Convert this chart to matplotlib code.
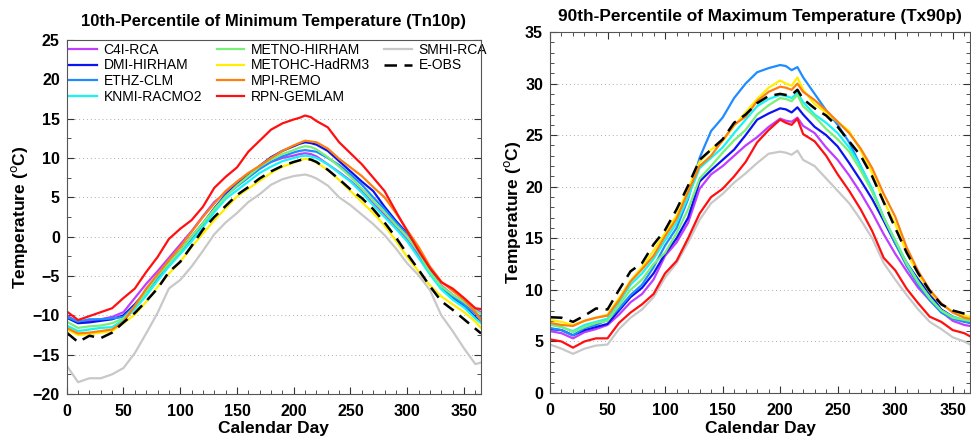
import matplotlib
matplotlib.use('Agg')
import matplotlib.pyplot as plt
from matplotlib.lines import Line2D
from matplotlib.ticker import MultipleLocator

days = [0, 10, 20, 30, 40, 50, 60, 70, 80, 90, 100, 110, 120, 130, 140, 150, 160, 170, 180, 190,
        200, 205, 210, 215, 220, 230, 240, 250, 260, 270, 280, 290, 300, 310, 320, 330, 340, 350, 360, 365]

model_names = ['C4I-RCA', 'DMI-HIRHAM', 'ETHZ-CLM', 'KNMI-RACMO2', 'METNO-HIRHAM',
               'METOHC-HadRM3', 'MPI-REMO', 'RPN-GEMLAM', 'SMHI-RCA']
obs_name = 'E-OBS'

# Tn10p (10th percentile of daily minimum temperature)
tn10p_c4i = [-10.0, -10.9, -10.7, -10.5, -10.2, -9.6, -7.8, -6.0, -4.4, -2.7, -1.0, 0.7, 2.6, 4.4, 5.6, 6.8, 7.8, 8.8, 9.5, 10.0,
             10.3, 10.5, 10.6, 10.5, 10.2, 9.2, 8.2, 7.1, 5.8, 4.2, 2.8, 1.2, -0.4, -2.4, -4.7, -6.2, -7.4, -8.3, -9.2, -9.6]
tn10p_dmi = [-10.3, -11.0, -10.9, -10.7, -10.5, -10.0, -8.6, -6.9, -5.2, -3.4, -1.8, 0.0, 1.7, 3.6, 5.3, 6.6, 7.8, 9.0, 10.1, 10.9,
             11.5, 11.8, 12.0, 11.9, 11.7, 10.9, 9.6, 8.3, 7.0, 5.8, 3.8, 2.0, 0.4, -1.8, -4.3, -6.4, -7.7, -8.9, -10.2, -10.9]
tn10p_ethz = [-10.2, -10.8, -10.5, -10.5, -10.4, -10.2, -8.8, -7.0, -5.2, -3.5, -1.9, -0.2, 1.6, 3.4, 5.2, 6.4, 7.5, 8.6, 9.5, 10.2,
              10.7, 10.9, 11.0, 10.9, 10.8, 10.0, 9.1, 7.9, 6.6, 5.0, 3.5, 1.8, 0.3, -2.1, -4.4, -6.4, -7.6, -8.6, -9.8, -10.2]
tn10p_knmi = [-11.3, -12.0, -11.8, -11.6, -11.5, -10.6, -9.2, -7.5, -5.6, -3.8, -2.2, -0.6, 1.2, 3.1, 4.8, 5.9, 7.0, 8.1, 8.9, 9.6,
              10.0, 10.2, 10.3, 10.2, 10.0, 9.2, 8.1, 7.0, 5.6, 4.0, 2.5, 1.0, -0.6, -2.7, -4.8, -6.7, -8.0, -9.0, -10.4, -11.0]
tn10p_metno = [-10.8, -11.6, -11.4, -11.3, -11.0, -10.4, -8.9, -7.0, -5.0, -3.4, -1.8, 0.0, 1.7, 3.5, 5.1, 6.5, 7.7, 8.9, 9.8, 10.5,
               11.0, 11.3, 11.5, 11.4, 11.1, 10.1, 8.9, 7.6, 6.1, 4.6, 3.1, 1.5, 0.0, -2.0, -4.5, -6.3, -7.4, -8.3, -9.4, -9.8]
tn10p_metohc = [-11.8, -12.5, -12.4, -12.2, -12.0, -11.0, -9.9, -8.3, -6.4, -4.7, -3.2, -1.3, 0.4, 2.1, 3.6, 5.1, 6.1, 7.1, 8.1, 8.9,
                9.4, 9.7, 9.9, 9.8, 9.4, 8.5, 7.2, 5.8, 4.4, 3.0, 1.4, -0.5, -2.6, -4.4, -6.2, -7.6, -8.6, -9.6, -10.8, -11.6]
tn10p_mpi = [-11.6, -12.3, -12.2, -12.0, -11.8, -10.8, -8.8, -6.6, -4.8, -3.0, -1.3, 0.6, 2.5, 4.2, 5.8, 7.0, 8.1, 9.0, 10.0, 10.9,
             11.6, 11.9, 12.2, 12.1, 12.0, 11.2, 9.9, 8.8, 7.7, 6.3, 5.0, 3.0, 0.8, -1.3, -3.8, -5.7, -6.9, -8.0, -9.6, -10.6]
tn10p_rpn = [-9.5, -10.6, -10.1, -9.6, -9.1, -7.8, -6.6, -4.5, -2.6, -0.3, 1.0, 2.1, 3.8, 6.2, 7.6, 8.8, 10.8, 12.2, 13.6, 14.4,
             14.9, 15.1, 15.4, 15.2, 14.7, 13.9, 12.0, 10.6, 9.2, 7.5, 5.8, 3.2, 0.7, -1.8, -4.0, -5.8, -6.6, -7.8, -9.1, -9.2]
tn10p_smhi = [-16.4, -18.5, -18.0, -18.0, -17.5, -16.7, -14.8, -12.3, -9.7, -6.6, -5.5, -3.8, -1.8, 0.3, 1.8, 3.0, 4.4, 5.4, 6.6, 7.3,
              7.7, 7.8, 7.9, 7.7, 7.4, 6.5, 5.0, 4.0, 2.8, 1.6, 0.2, -1.5, -3.4, -4.9, -6.8, -10.0, -12.0, -14.2, -16.2, -16.0]
tn10p_eobs = [-12.2, -13.4, -12.6, -12.9, -12.2, -10.9, -9.7, -8.2, -6.6, -4.5, -3.2, -1.2, 0.9, 2.5, 3.9, 5.3, 6.3, 7.4, 8.3, 9.0,
              9.5, 9.7, 9.9, 9.8, 9.5, 8.5, 7.3, 6.0, 4.9, 3.5, 1.8, -0.1, -2.2, -4.2, -6.3, -8.2, -9.3, -10.5, -11.7, -12.3]

# Tx90p (90th percentile of daily maximum temperature)
tx90p_c4i = [6.0, 5.8, 5.3, 5.9, 6.2, 6.6, 7.6, 8.8, 9.6, 11.0, 13.3, 14.6, 16.5, 19.8, 21.2, 22.0, 23.0, 24.0, 24.8, 25.8,
             26.6, 26.4, 26.3, 26.7, 25.9, 25.2, 23.8, 22.6, 21.1, 19.4, 17.5, 15.4, 13.5, 11.8, 10.2, 9.0, 7.9, 7.0, 6.6, 6.5]
tx90p_dmi = [6.2, 6.1, 5.6, 6.1, 6.4, 6.7, 8.0, 9.3, 10.2, 11.6, 13.5, 15.0, 17.0, 20.5, 21.6, 22.6, 23.6, 25.0, 26.5, 27.1,
             27.6, 27.5, 27.2, 27.7, 27.0, 25.8, 25.0, 23.9, 22.3, 20.6, 18.8, 16.7, 14.5, 12.6, 11.0, 9.6, 8.1, 7.4, 7.0, 6.8]
tx90p_ethz = [6.3, 6.1, 5.6, 6.3, 6.6, 7.1, 8.2, 9.5, 10.5, 12.2, 14.3, 16.0, 18.8, 22.8, 25.4, 26.7, 28.6, 30.0, 31.1, 31.5,
              31.8, 31.7, 31.3, 31.6, 30.6, 29.0, 27.4, 26.0, 24.3, 22.0, 19.6, 17.0, 14.5, 12.3, 10.5, 9.0, 7.8, 7.2, 6.9, 6.8]
tx90p_knmi = [6.7, 6.4, 6.0, 6.6, 6.9, 7.2, 8.8, 10.5, 11.6, 13.0, 14.8, 16.5, 19.0, 21.8, 22.8, 23.8, 25.2, 26.5, 27.8, 28.5,
              28.9, 28.8, 28.6, 29.1, 28.2, 27.0, 26.2, 25.2, 23.8, 22.0, 19.8, 17.0, 14.8, 12.6, 10.8, 9.2, 8.0, 7.4, 7.1, 7.0]
tx90p_metno = [6.6, 6.4, 5.9, 6.4, 6.8, 7.0, 8.5, 10.0, 11.0, 12.5, 13.6, 15.5, 17.8, 20.8, 22.0, 23.3, 24.5, 25.5, 27.0, 27.9,
               28.6, 28.5, 28.3, 28.9, 27.8, 26.8, 25.6, 24.6, 23.4, 21.6, 19.5, 17.0, 14.8, 12.5, 10.7, 9.2, 8.0, 7.3, 7.1, 7.0]
tx90p_metohc = [7.1, 6.9, 6.6, 7.0, 7.3, 7.6, 9.2, 10.9, 12.2, 13.8, 15.5, 17.2, 19.8, 22.4, 23.6, 24.4, 25.9, 27.2, 28.5, 29.6,
                30.3, 30.0, 29.8, 30.6, 29.4, 28.0, 27.2, 26.3, 25.4, 23.5, 21.3, 18.6, 16.4, 13.6, 11.5, 9.8, 8.6, 7.9, 7.5, 7.4]
tx90p_mpi = [6.8, 6.6, 6.5, 7.0, 7.3, 7.5, 9.0, 10.8, 12.0, 13.3, 15.2, 16.9, 19.5, 22.0, 23.0, 24.5, 26.0, 26.8, 28.3, 29.2,
             29.7, 29.6, 29.4, 30.0, 29.2, 28.4, 27.4, 26.3, 25.2, 23.7, 21.8, 19.3, 17.1, 14.1, 11.8, 10.0, 8.7, 7.8, 7.3, 7.2]
tx90p_rpn = [5.2, 5.0, 4.4, 5.0, 5.3, 5.3, 6.8, 7.8, 8.6, 9.6, 11.6, 12.8, 15.0, 17.4, 19.0, 19.8, 21.0, 22.4, 24.3, 25.5,
             26.5, 26.2, 26.0, 26.6, 25.1, 24.4, 23.0, 21.2, 19.6, 17.8, 15.7, 13.1, 11.9, 10.1, 8.7, 7.4, 6.9, 6.1, 5.8, 5.5]
tx90p_smhi = [4.7, 4.3, 3.8, 4.3, 4.6, 4.7, 6.2, 7.3, 8.1, 9.3, 11.2, 12.6, 14.6, 16.8, 18.4, 19.3, 20.4, 21.3, 22.3, 23.2,
              23.4, 23.3, 23.1, 23.5, 22.6, 22.0, 20.8, 19.6, 18.4, 16.8, 15.0, 12.6, 11.0, 9.5, 8.1, 6.9, 6.2, 5.4, 5.0, 4.7]
tx90p_eobs = [7.35, 7.3, 6.9, 7.5, 8.2, 8.1, 10.0, 11.8, 12.6, 14.4, 15.8, 17.8, 20.1, 22.6, 23.6, 24.6, 26.2, 27.0, 28.1, 28.8,
              29.0, 28.9, 28.9, 29.4, 28.5, 27.6, 26.9, 25.8, 24.4, 23.0, 21.0, 18.5, 16.0, 13.6, 11.6, 9.9, 8.6, 8.0, 7.7, 7.6]

tn10p_models = [tn10p_c4i, tn10p_dmi, tn10p_ethz, tn10p_knmi, tn10p_metno,
                tn10p_metohc, tn10p_mpi, tn10p_rpn, tn10p_smhi]
tx90p_models = [tx90p_c4i, tx90p_dmi, tx90p_ethz, tx90p_knmi, tx90p_metno,
                tx90p_metohc, tx90p_mpi, tx90p_rpn, tx90p_smhi]

colors = ['#c03cff', '#0a14f0', '#1e8cff', '#14f5f5', '#78f078',
          '#ffee00', '#ff7f0e', '#ff0f0f', '#c8c8c8']
# draw order: grey first, the rest in legend order
draw_order = [8, 0, 1, 2, 3, 4, 5, 6, 7]

plt.rcParams['font.family'] = ['Liberation Sans', 'DejaVu Sans']

fig = plt.figure(figsize=(9.71, 4.41), dpi=100)
ax1 = fig.add_axes([0.0687, 0.1066, 0.4267, 0.8027])
ax2 = fig.add_axes([0.5664, 0.1088, 0.4326, 0.8186])


def style_axis(ax, ylim, ymajor, yminor, title, title_size, title_pad, ylabel_x):
    ax.set_xlim(0, 365)
    ax.set_ylim(*ylim)
    ax.xaxis.set_major_locator(MultipleLocator(50))
    ax.xaxis.set_minor_locator(MultipleLocator(10))
    ax.yaxis.set_major_locator(MultipleLocator(ymajor))
    ax.yaxis.set_minor_locator(MultipleLocator(yminor))
    ax.tick_params(which='both', direction='in', top=True, right=True,
                   colors='#333333', labelcolor='black')
    ax.tick_params(which='major', length=5, width=0.8, labelsize=11.5)
    ax.tick_params(which='minor', length=3, width=0.6)
    ax.tick_params(axis='x', which='major', pad=7)
    ax.tick_params(axis='y', which='major', pad=5)
    for lab in ax.get_xticklabels() + ax.get_yticklabels():
        lab.set_fontweight('bold')
    for sp in ax.spines.values():
        sp.set_color('#555555')
        sp.set_linewidth(0.8)
    for v in range(int(ylim[0]) + ymajor, int(ylim[1]), ymajor):
        ax.axhline(v, color='#aaaaaa', lw=0.7, ls=(0, (1, 3)), zorder=0)
    ax.set_xlabel('Calendar Day', fontsize=12.5, fontweight='bold', labelpad=2)
    ax.set_ylabel('Temperature (' + r'$^{\mathrm{o}}$' + 'C)', fontsize=12.5,
                  fontweight='bold')
    ax.yaxis.set_label_coords(ylabel_x, 0.5)
    ax.set_title(title, fontsize=title_size, fontweight='bold', pad=title_pad)


def draw_lines(ax, models, obs):
    handles = [None] * len(models)
    for i in draw_order:
        handles[i], = ax.plot(days, models[i], color=colors[i], lw=1.6,
                              label=model_names[i], zorder=2)
    h_obs, = ax.plot(days, obs, color='black', lw=1.8, ls=(0, (5, 3)),
                     label=obs_name, zorder=2.1)
    return handles + [h_obs]


handles = draw_lines(ax1, tn10p_models, tn10p_eobs)
draw_lines(ax2, tx90p_models, tx90p_eobs)

style_axis(ax1, (-20, 25), 5, 2.5, '10th-Percentile of Minimum Temperature (Tn10p)', 12, 10, -0.088)
style_axis(ax2, (0, 35), 5, 1, '90th-Percentile of Maximum Temperature (Tx90p)', 12.4, 8, -0.065)

# two empty slots so the columns hold 4, 4 and 2 entries
blank = Line2D([], [], color='none')
leg = ax1.legend(handles=handles + [blank, blank],
                 labels=model_names + [obs_name, '', ''],
                 loc='upper left', bbox_to_anchor=(0.0, 1.0),
                 ncol=3, fontsize=10, frameon=True, fancybox=False,
                 borderaxespad=0.0, borderpad=0.2, labelspacing=0.12,
                 handlelength=1.95, handletextpad=0.5, columnspacing=1.05)
leg.get_frame().set_edgecolor('none')
leg.get_frame().set_facecolor('white')
leg.get_frame().set_alpha(1.0)
leg.set_zorder(2.3)

fig.savefig('out.png', dpi=100)
